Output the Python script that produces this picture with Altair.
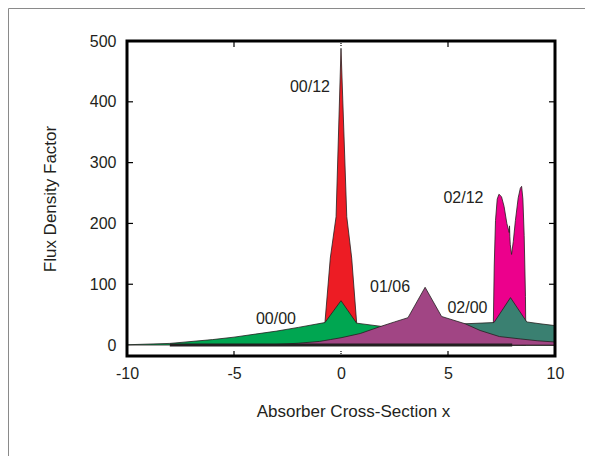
import altair as alt
import pandas as pd

# ---- data ----
x_00_12 = [-0.76, -0.75, -0.5, -0.23, 0.0, 0.27, 0.5, 0.73, 0.74]
y_00_12 = [0, 37, 143, 211, 488, 211, 143, 37, 0]

x_00_00 = [-10, -8, -6, -5, -4, -3, -2, -0.75, 0.0, 0.73, 1.82, 3, 4, 5, 6, 7, 8, 10]
y_00_00 = [0.5, 2.7, 9, 13, 18, 23, 29, 37, 73, 36, 31, 22, 14, 8, 4, 2, 0.5, 0]

x_01_06 = [-4, -3, -2, -1, -0.5, 0, 0.9, 1.8, 2.5, 3.13, 3.93, 4.7, 5.8, 6.5, 7.4, 8.4, 9.2, 10]
y_01_06 = [0, 1, 3, 6, 9, 12, 19, 30, 38, 45, 95, 47, 35, 24, 14, 10, 7, 5]

x_02_00 = [-1, 1, 3, 4, 5, 5.8, 7.15, 7.92, 8.68, 9.3, 10]
y_02_00 = [0, 3, 12, 20, 29, 35, 37, 78, 38, 35, 32]

x_02_12 = [7.1, 7.12, 7.16, 7.22, 7.3, 7.38, 7.5, 7.62, 7.75, 7.86, 7.875, 7.89, 7.91,
           7.97, 8.05, 8.15, 8.28, 8.38, 8.44, 8.5, 8.56, 8.62, 8.64]
y_02_12 = [0, 38, 130, 205, 240, 248, 244, 228, 200, 185, 196, 178, 165,
           149, 170, 205, 242, 258, 261, 240, 180, 80, 0]

series_colors = {"00/12": "#ED1C24", "00/00": "#00A651", "01/06": "#A14584",
                 "02/00": "#3A8071", "02/12": "#EC008C"}

labels = ["00/12", "00/00", "01/06", "02/00", "02/12"]
label_x = [-1.45, -3.04, 2.29, 5.91, 5.72]
label_y = [424, 43.6, 96, 61.7, 242.6]

x_ticks = [-10, -5, 0, 5, 10]
y_ticks = [0, 100, 200, 300, 400, 500]
inner_x_ticks = [-5, 5]
inner_zero_tick = [0]
inner_y_ticks = [100, 200, 300, 400]
thick_line_x = [-8]
thick_line_x2 = [8]

INK = "#231f20"
FONT = "Liberation Sans"
W, H = 428, 315

xs = alt.Scale(domain=[-10, 10], nice=False, zero=False)
ys = alt.Scale(domain=[-18, 500], nice=False, zero=False)

x_axis = alt.Axis(values=x_ticks, labelExpr="'' + datum.value", ticks=False, domain=False,
                  grid=False, labelFontSize=16, labelFont=FONT, labelColor=INK,
                  labelPadding=9, labelFlush=False, title="Absorber Cross-Section x",
                  titleFont=FONT, titleX=226, titleFontSize=17, titleFontWeight="normal",
                  titleColor=INK, titlePadding=22)
y_axis = alt.Axis(values=y_ticks, labelExpr="'' + datum.value", ticks=False, domain=False,
                  grid=False, labelFontSize=16, labelFont=FONT, labelColor=INK,
                  labelPadding=11, labelFlush=False, title="Flux Density Factor",
                  titleFont=FONT, titleFontSize=17, titleFontWeight="normal",
                  titleColor=INK, titlePadding=30)


def X(field="x"):
    return alt.X(f"{field}:Q", scale=xs, axis=x_axis, title="Absorber Cross-Section x")


def Y(field="y"):
    return alt.Y(f"{field}:Q", scale=ys, axis=y_axis, title="Flux Density Factor")


def area(xv, yv, color):
    df = pd.DataFrame({"x": xv, "y": yv})
    return alt.Chart(df).mark_area(color=color, stroke=INK, strokeWidth=0.8,
                                   fillOpacity=1, opacity=1, interpolate="linear",
                                   orient="vertical").encode(x=X(), y=Y())


one = pd.DataFrame({"a": [0]})
outer_frame = alt.Chart(one).mark_rect(
    fill="transparent", stroke="#8a8a8a", strokeWidth=1).encode(
    x=alt.value(-118.5), x2=alt.value(1000), y=alt.value(-32.5), y2=alt.value(1000))

plot_box = alt.Chart(one).mark_rect(
    fill="transparent", stroke="#000000", strokeWidth=3, strokeOpacity=1).encode(
    x=alt.value(0), x2=alt.value(W), y=alt.value(0), y2=alt.value(H))

red = area(x_00_12, y_00_12, series_colors["00/12"])
mag = area(x_02_12, y_02_12, series_colors["02/12"])
green = area(x_00_00, y_00_00, series_colors["00/00"])
teal = area(x_02_00, y_02_00, series_colors["02/00"])
purple = area(x_01_06, y_01_06, series_colors["01/06"])

thick = alt.Chart(pd.DataFrame({"x": thick_line_x, "x2": thick_line_x2, "y": [0]})).mark_rule(
    color=INK, strokeWidth=3).encode(x=X(), x2="x2:Q", y=Y())

xt = pd.DataFrame({"x": inner_x_ticks})
zt = pd.DataFrame({"x": inner_zero_tick})
yt = pd.DataFrame({"y": inner_y_ticks})
tick_style = dict(color="#000000", strokeWidth=1.2, opacity=1)
ticks = [
    alt.Chart(xt).mark_rule(**tick_style).encode(x=X(), y=alt.value(H), y2=alt.value(H - 5)),
    alt.Chart(xt).mark_rule(**tick_style).encode(x=X(), y=alt.value(0), y2=alt.value(6)),
    alt.Chart(zt).mark_rule(strokeDash=[1, 1], **tick_style).encode(x=X(), y=alt.value(H), y2=alt.value(H - 6)),
    alt.Chart(zt).mark_rule(strokeDash=[1, 1], **tick_style).encode(x=X(), y=alt.value(0), y2=alt.value(6)),
    alt.Chart(yt).mark_rule(**tick_style).encode(y=Y(), x=alt.value(0), x2=alt.value(6)),
    alt.Chart(yt).mark_rule(**tick_style).encode(y=Y(), x=alt.value(W), x2=alt.value(W - 6)),
]

text = alt.Chart(pd.DataFrame({"label": labels, "x": label_x, "y": label_y})).mark_text(
    fontSize=16, font=FONT, color=INK).encode(x=X(), y=Y(), text="label:N")

chart = alt.layer(outer_frame, red, mag, green, teal, purple, thick, *ticks, text,
                  plot_box).properties(
    width=W, height=H, autosize="none", background="white",
    padding={"left": 119, "top": 33, "right": 30, "bottom": 100},
).configure_view(strokeWidth=0, stroke=None)

chart.save("out.html", embed_options={"renderer": "svg", "actions": False})
